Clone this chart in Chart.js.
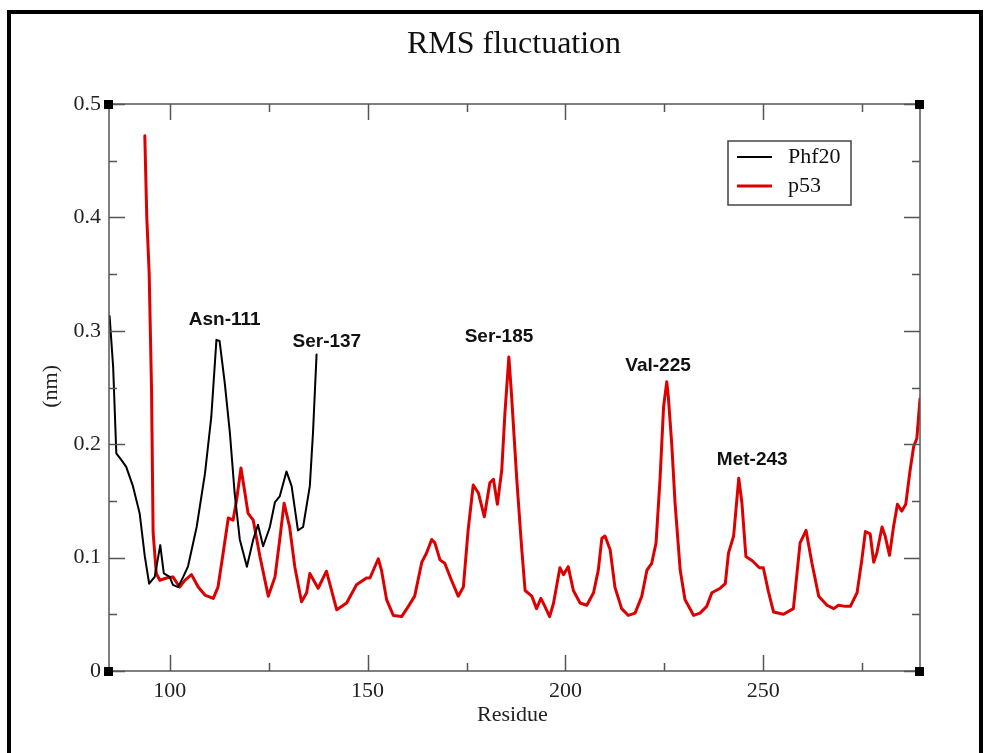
<!DOCTYPE html>
<html>
<head>
<meta charset="utf-8">
<title>RMS fluctuation</title>
<script src="https://cdn.jsdelivr.net/npm/chart.js@4/dist/chart.umd.min.js"></script>
<style>
  html, body { margin: 0; padding: 0; background: #fff; }
  canvas { display: block; }
</style>
</head>
<body>
<canvas id="rmsf" width="984" height="753"></canvas>
<script>
// Phf20 RMSF per residue (nm)
const phfResidue = [84.8, 85.7, 86.5, 87.8, 89.0, 90.7, 92.4, 93.7, 94.8, 96.2, 97.6, 98.5, 100.0, 100.8, 102.1, 103.4, 104.6, 106.8, 108.9, 110.5, 111.8, 112.6, 113.9, 115.2, 116.4, 117.7, 119.5, 121.1, 122.3, 123.6, 125.3, 126.6, 127.8, 129.5, 130.8, 132.4, 133.7, 135.4, 136.2, 137.1]
const phfRmsf = [0.313, 0.268, 0.192, 0.186, 0.180, 0.163, 0.139, 0.101, 0.077, 0.083, 0.111, 0.086, 0.083, 0.076, 0.074, 0.083, 0.092, 0.127, 0.174, 0.224, 0.292, 0.291, 0.254, 0.210, 0.157, 0.116, 0.092, 0.116, 0.129, 0.110, 0.127, 0.149, 0.154, 0.176, 0.163, 0.124, 0.127, 0.163, 0.210, 0.279]

// p53 RMSF per residue (nm)
const p53Residue = [93.7, 94.2, 94.8, 95.4, 95.8, 96.6, 97.5, 99.2, 100.8, 102.5, 103.8, 105.5, 107.2, 108.9, 111.0, 112.2, 113.5, 114.8, 116.0, 116.9, 118.0, 119.0, 119.8, 121.1, 122.8, 124.9, 126.6, 127.8, 128.9, 130.3, 131.6, 133.3, 134.6, 135.4, 137.5, 139.6, 142.2, 144.7, 147.2, 149.7, 150.6, 152.7, 153.5, 154.8, 156.5, 158.6, 160.3, 161.9, 163.7, 164.9, 166.2, 167.0, 168.3, 169.5, 171.2, 172.9, 174.2, 175.4, 176.7, 178.0, 179.5, 180.9, 181.8, 182.8, 183.9, 184.7, 185.7, 186.4, 187.7, 188.9, 189.8, 191.5, 192.7, 193.8, 194.8, 196.0, 197.0, 198.6, 199.5, 200.7, 202.0, 203.7, 205.4, 207.1, 208.3, 209.2, 210.0, 211.3, 212.5, 214.2, 215.9, 217.6, 219.3, 220.6, 221.8, 222.9, 223.9, 224.8, 225.6, 226.0, 226.9, 227.7, 229.0, 230.2, 232.4, 234.0, 235.7, 237.0, 239.1, 240.4, 241.2, 242.5, 243.8, 244.6, 245.6, 247.3, 249.0, 250.0, 251.3, 252.6, 255.1, 257.6, 259.3, 260.8, 262.3, 264.0, 266.1, 267.8, 269.0, 270.7, 272.0, 273.7, 274.9, 275.8, 277.0, 277.9, 278.7, 280.0, 280.8, 281.9, 282.9, 283.9, 285.0, 286.0, 287.1, 288.0, 288.8, 289.6]
const p53Rmsf = [0.472, 0.400, 0.351, 0.248, 0.122, 0.086, 0.080, 0.082, 0.083, 0.074, 0.080, 0.085, 0.074, 0.067, 0.064, 0.074, 0.104, 0.135, 0.133, 0.151, 0.179, 0.157, 0.139, 0.133, 0.101, 0.066, 0.083, 0.116, 0.148, 0.127, 0.092, 0.061, 0.069, 0.086, 0.073, 0.088, 0.054, 0.060, 0.076, 0.082, 0.082, 0.099, 0.089, 0.063, 0.049, 0.048, 0.057, 0.066, 0.096, 0.104, 0.116, 0.113, 0.098, 0.095, 0.080, 0.066, 0.074, 0.124, 0.164, 0.157, 0.136, 0.166, 0.169, 0.147, 0.177, 0.227, 0.277, 0.242, 0.169, 0.110, 0.071, 0.066, 0.055, 0.064, 0.057, 0.048, 0.060, 0.091, 0.085, 0.092, 0.071, 0.060, 0.058, 0.069, 0.089, 0.117, 0.119, 0.107, 0.074, 0.055, 0.049, 0.051, 0.066, 0.089, 0.095, 0.113, 0.169, 0.233, 0.255, 0.242, 0.198, 0.148, 0.089, 0.063, 0.049, 0.051, 0.057, 0.069, 0.073, 0.077, 0.104, 0.119, 0.170, 0.148, 0.101, 0.097, 0.091, 0.091, 0.070, 0.052, 0.050, 0.055, 0.113, 0.124, 0.095, 0.066, 0.058, 0.055, 0.058, 0.057, 0.057, 0.069, 0.098, 0.123, 0.121, 0.096, 0.104, 0.127, 0.119, 0.102, 0.127, 0.147, 0.141, 0.147, 0.177, 0.198, 0.205, 0.240]

// axis ticks
const xMajorTicks = [100, 150, 200, 250]
const xMinorTicks = [125, 175, 225, 275]
const yMajorTicks = [0, 0.1, 0.2, 0.3, 0.4, 0.5]
const yMinorTicks = [0.05, 0.15, 0.25, 0.35, 0.45]
const yTickLabels = ["0", "0.1", "0.2", "0.3", "0.4", "0.5"]

// labelled residues: [text, residue, rmsf] where the label sits
const peakLabels = [
  ["Asn-111", 113.9, 0.310],
  ["Ser-137", 139.7, 0.290],
  ["Ser-185", 183.2, 0.295],
  ["Val-225", 223.4, 0.269],
  ["Met-243", 247.2, 0.186]
]

const serif = "'Liberation Serif', 'Times New Roman', serif"
const axisColor = "#555"

const toPoints = (xs, ys) => xs.map((x, i) => ({ x: x, y: ys[i] }))

// grace-style frame: inward ticks on all four sides, corner squares, labels
const graceFrame = {
  id: "graceFrame",
  afterDatasetsDraw(chart) {
    const { ctx, chartArea: area, scales: { x, y } } = chart
    ctx.save()

    // outer figure border
    ctx.fillStyle = "#000"
    ctx.fillRect(7, 10, 4, 760)
    ctx.fillRect(7, 10, 976, 4)
    ctx.fillRect(979, 10, 4, 760)

    ctx.strokeStyle = axisColor
    ctx.lineWidth = 1.5
    ctx.strokeRect(area.left, area.top, area.right - area.left, area.bottom - area.top)

    ctx.beginPath()
    const xTick = (v, len) => {
      const px = Math.round(x.getPixelForValue(v)) + 0.5
      ctx.moveTo(px, area.bottom); ctx.lineTo(px, area.bottom - len)
      ctx.moveTo(px, area.top); ctx.lineTo(px, area.top + len)
    }
    const yTick = (v, len) => {
      const py = Math.round(y.getPixelForValue(v)) + 0.5
      ctx.moveTo(area.left, py); ctx.lineTo(area.left + len, py)
      ctx.moveTo(area.right, py); ctx.lineTo(area.right - len, py)
    }
    xMajorTicks.forEach(v => xTick(v, 16))
    xMinorTicks.forEach(v => xTick(v, 8))
    yMajorTicks.forEach(v => yTick(v, 16))
    yMinorTicks.forEach(v => yTick(v, 8))
    ctx.stroke()

    // corner squares
    ctx.fillStyle = "#000"
    ;[[area.left, area.top], [area.right, area.top], [area.left, area.bottom], [area.right, area.bottom]]
      .forEach(([cx, cy]) => ctx.fillRect(cx - 5, cy - 4, 9, 9))

    // tick labels
    ctx.fillStyle = "#222"
    ctx.font = `22px ${serif}`
    ctx.textAlign = "center"
    ctx.textBaseline = "alphabetic"
    xMajorTicks.forEach(v => ctx.fillText(String(v), x.getPixelForValue(v), area.bottom + 26))
    ctx.textAlign = "right"
    ctx.textBaseline = "middle"
    yMajorTicks.forEach((v, i) => ctx.fillText(yTickLabels[i], area.left - 8, y.getPixelForValue(v)))

    // axis titles
    ctx.textAlign = "center"
    ctx.textBaseline = "alphabetic"
    ctx.fillText("Residue", x.getPixelForValue(186.6), area.bottom + 50)
    ctx.save()
    ctx.translate(57, y.getPixelForValue(0.251))
    ctx.rotate(-Math.PI / 2)
    ctx.fillText("(nm)", 0, 0)
    ctx.restore()

    // chart title
    ctx.fillStyle = "#111"
    ctx.font = `32px ${serif}`
    ctx.fillText("RMS fluctuation", 514, 53)

    // legend box
    ctx.strokeStyle = "#444"
    ctx.lineWidth = 1.5
    ctx.strokeRect(728, 141, 123, 64)
    ctx.font = `22px ${serif}`
    ctx.textAlign = "left"
    ctx.textBaseline = "middle"
    chart.data.datasets.forEach((ds, i) => {
      const ly = 157 + i * 29
      ctx.strokeStyle = ds.borderColor
      ctx.lineWidth = ds.borderWidth
      ctx.beginPath()
      ctx.moveTo(737, ly); ctx.lineTo(772, ly)
      ctx.stroke()
      ctx.fillStyle = "#111"
      ctx.fillText(ds.label, 788, ly)
    })

    // peak labels
    ctx.font = `bold 19px 'Liberation Sans', Arial, sans-serif`
    ctx.textAlign = "center"
    ctx.fillStyle = "#111"
    peakLabels.forEach(([text, r, v]) => ctx.fillText(text, x.getPixelForValue(r), y.getPixelForValue(v)))

    ctx.restore()
  }
}

new Chart(document.getElementById("rmsf"), {
  type: "line",
  data: {
    datasets: [
      {
        label: "Phf20",
        data: toPoints(phfResidue, phfRmsf),
        borderColor: "#000",
        borderWidth: 2,
        borderJoinStyle: "round",
        borderCapStyle: "round",
        pointRadius: 0,
        tension: 0
      },
      {
        label: "p53",
        data: toPoints(p53Residue, p53Rmsf),
        borderColor: "#dd0000",
        borderWidth: 3,
        borderJoinStyle: "round",
        borderCapStyle: "round",
        pointRadius: 0,
        tension: 0
      }
    ]
  },
  options: {
    responsive: false,
    animation: false,
    devicePixelRatio: 1,
    layout: {
      padding: { left: 109, right: 64, top: 104, bottom: 82 }
    },
    plugins: {
      legend: { display: false },
      title: { display: false },
      tooltip: { enabled: false }
    },
    scales: {
      x: { type: "linear", min: 84.65, max: 289.6, display: false },
      y: { type: "linear", min: 0, max: 0.5, display: false }
    }
  },
  plugins: [graceFrame]
})
</script>
</body>
</html>
